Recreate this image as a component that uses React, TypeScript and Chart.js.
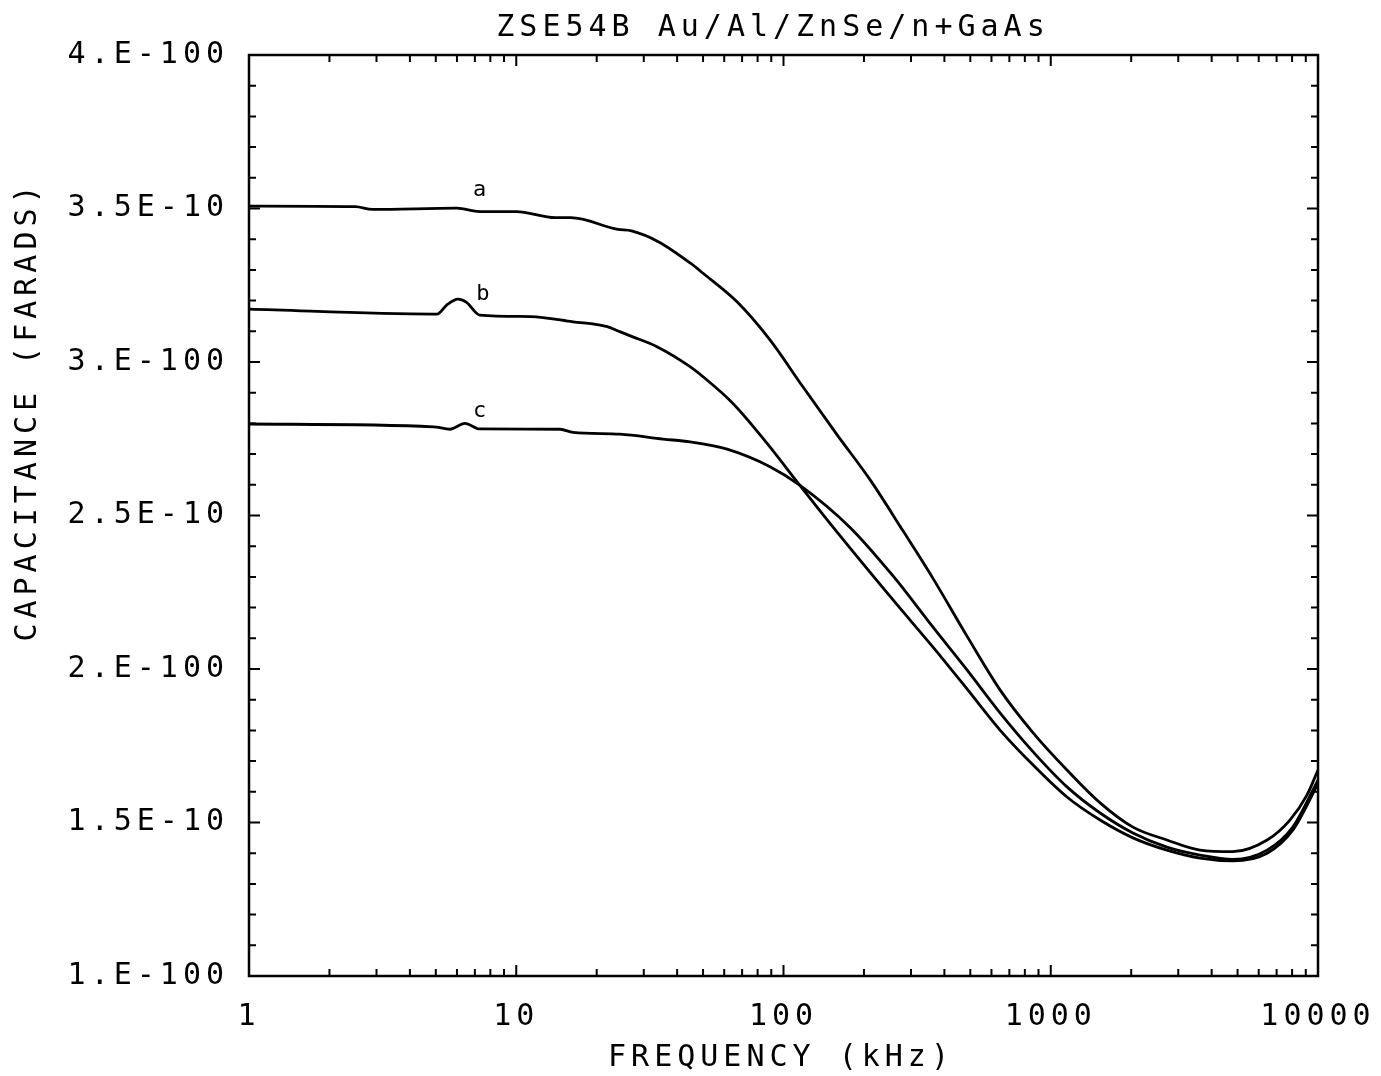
import React, { useEffect, useRef } from "react";
import { Chart, registerables } from "chart.js";

Chart.register(...registerables);

// Frequency (kHz) and capacitance (units of 1e-10 F)
const freqA = [1, 2.5, 2.9, 6, 7.3, 10, 14, 16, 24, 27, 34, 45, 50, 67, 89, 118, 159, 211, 280, 362, 486, 646, 859, 1150, 1530, 2030, 2720, 3620, 4800, 6450, 7850, 9100, 10000];
const capA = [3.508, 3.506, 3.497, 3.501, 3.49, 3.49, 3.47, 3.47, 3.432, 3.427, 3.392, 3.321, 3.289, 3.196, 3.072, 2.92, 2.762, 2.616, 2.45, 2.296, 2.107, 1.932, 1.792, 1.671, 1.564, 1.485, 1.443, 1.41, 1.405, 1.443, 1.508, 1.59, 1.671];

const freqB = [1, 4.9, 5.05, 5.5, 6.05, 6.5, 7.3, 11.3, 16.3, 21.9, 24.4, 27.3, 33.6, 44.7, 50, 64.7, 86.8, 115, 153, 257, 362, 486, 646, 859, 1150, 1530, 2030, 2720, 3620, 4800, 6450, 8060, 9580, 10000];
const capB = [3.172, 3.156, 3.156, 3.186, 3.205, 3.195, 3.153, 3.148, 3.131, 3.115, 3.099, 3.082, 3.05, 2.985, 2.952, 2.865, 2.735, 2.599, 2.463, 2.225, 2.072, 1.935, 1.801, 1.687, 1.583, 1.508, 1.45, 1.41, 1.384, 1.375, 1.4, 1.476, 1.595, 1.628];

const freqC = [1, 4.9, 5.65, 6.43, 7.3, 14.6, 16.3, 24.4, 35.4, 44.7, 61.5, 89, 115, 177, 257, 362, 486, 646, 859, 1150, 1530, 2030, 2720, 3620, 4800, 6450, 8060, 9580, 10000];
const capC = [2.798, 2.789, 2.781, 2.8, 2.782, 2.781, 2.771, 2.765, 2.749, 2.74, 2.716, 2.659, 2.599, 2.462, 2.303, 2.137, 1.997, 1.857, 1.73, 1.616, 1.531, 1.466, 1.42, 1.394, 1.38, 1.41, 1.486, 1.606, 1.638];

const xTickValues = [1, 10, 100, 1000, 10000];
const xTickLabels = ["1", "10", "100", "1000", "10000"];
const yTickValues = [1, 1.5, 2, 2.5, 3, 3.5, 4];
const yTickLabels = ["1.E-100", "1.5E-10", "2.E-100", "2.5E-10", "3.E-100", "3.5E-10", "4.E-100"];

const titleText = "ZSE54B Au/Al/ZnSe/n+GaAs";
const xTitle = "FREQUENCY (kHz)";
const yTitle = "CAPACITANCE (FARADS)";
const curveLabels = [
  { text: "a", x: 7.3, y: 3.56 },
  { text: "b", x: 7.5, y: 3.22 },
  { text: "c", x: 7.3, y: 2.84 },
];

const FONT = "'DejaVu Sans Mono', monospace";

const framePlugin = {
  id: "framePlugin",
  beforeDraw(chart: any) {
    chart.ctx.letterSpacing = "5px";
  },
  afterDraw(chart: any) {
    const ctx = chart.ctx;
    const { left, right, top, bottom } = chart.chartArea;
    const xs = chart.scales.x;
    const ys = chart.scales.y;
    ctx.save();
    ctx.strokeStyle = "#000";
    ctx.lineWidth = 2.5;
    ctx.lineCap = "butt";
    ctx.strokeRect(left, top, right - left, bottom - top);
    ctx.lineWidth = 2;
    ctx.beginPath();
    for (let d = 1; d < 10000; d *= 10) {
      for (let m = 1; m <= 9; m++) {
        const v = d * m;
        const px = xs.getPixelForValue(v);
        const len = m === 1 ? 11 : 7;
        ctx.moveTo(px, bottom);
        ctx.lineTo(px, bottom - len);
        ctx.moveTo(px, top);
        ctx.lineTo(px, top + len);
      }
    }
    for (let i = 10; i <= 40; i++) {
      const v = i / 10;
      const py = ys.getPixelForValue(v);
      const len = i % 5 === 0 ? 11 : 7;
      ctx.moveTo(left, py);
      ctx.lineTo(left + len, py);
      ctx.moveTo(right, py);
      ctx.lineTo(right - len, py);
    }
    ctx.stroke();

    ctx.fillStyle = "#000";
    ctx.letterSpacing = "5px";
    ctx.font = `30px ${FONT}`;
    ctx.textAlign = "center";
    ctx.textBaseline = "middle";
    ctx.fillText(titleText, 773, 28);
    ctx.fillText(xTitle, 781, 1058);
    ctx.save();
    ctx.translate(28, 411);
    ctx.rotate(-Math.PI / 2);
    ctx.fillText(yTitle, 0, 0);
    ctx.restore();

    ctx.letterSpacing = "0px";
    ctx.font = `22px ${FONT}`;
    for (const l of curveLabels) {
      ctx.fillText(l.text, xs.getPixelForValue(l.x), ys.getPixelForValue(l.y));
    }
    ctx.restore();
  },
};

function toPoints(xs: number[], ys: number[]) {
  return xs.map((x, i) => ({ x, y: ys[i] }));
}

export default function App() {
  const ref = useRef<HTMLCanvasElement | null>(null);
  useEffect(() => {
    if (!ref.current) return;
    const lineStyle = {
      borderColor: "#000",
      borderWidth: 2.8,
      pointRadius: 0,
      fill: false,
      cubicInterpolationMode: "monotone" as const,
    };
    const chart = new Chart(ref.current, {
      type: "line",
      data: {
        datasets: [
          { label: "a", data: toPoints(freqA, capA), ...lineStyle },
          { label: "b", data: toPoints(freqB, capB), ...lineStyle },
          { label: "c", data: toPoints(freqC, capC), ...lineStyle },
        ],
      },
      options: {
        animation: false,
        responsive: false,
        maintainAspectRatio: false,
        layout: { padding: { left: 0, right: 63, top: 55, bottom: 0 } },
        plugins: {
          legend: { display: false },
          title: { display: false },
          tooltip: { enabled: false },
        },
        scales: {
          x: {
            type: "logarithmic",
            min: 1,
            max: 10000,
            grid: { display: false },
            border: { display: false },
            afterBuildTicks: (scale: any) => {
              scale.ticks = xTickValues.map((v) => ({ value: v }));
            },
            afterFit: (scale: any) => {
              scale.height = 100;
              scale.paddingLeft = 0;
              scale.paddingRight = 0;
            },
            ticks: {
              autoSkip: false,
              maxRotation: 0,
              minRotation: 0,
              padding: 15,
              color: "#000",
              font: { family: FONT, size: 30 },
              callback: (_v: any, i: number) => xTickLabels[i],
            },
          },
          y: {
            type: "linear",
            min: 1,
            max: 4,
            grid: { display: false },
            border: { display: false },
            afterBuildTicks: (scale: any) => {
              scale.ticks = yTickValues.map((v) => ({ value: v }));
            },
            afterFit: (scale: any) => {
              scale.width = 249;
              scale.paddingTop = 0;
              scale.paddingBottom = 0;
            },
            ticks: {
              padding: 12,
              color: "#000",
              font: { family: FONT, size: 30 },
              callback: (_v: any, i: number) => yTickLabels[i],
            },
          },
        },
      },
      plugins: [framePlugin],
    });
    return () => chart.destroy();
  }, []);
  return (
    <div style={{ position: "absolute", left: 0, top: 0, width: 1381, height: 1076, background: "#fff" }}>
      <canvas ref={ref} width={1381} height={1076} style={{ display: "block" }} />
    </div>
  );
}
